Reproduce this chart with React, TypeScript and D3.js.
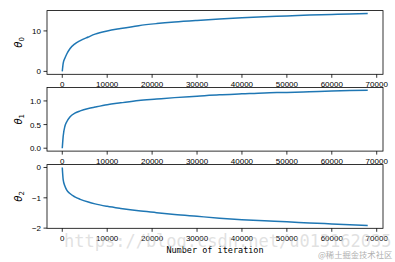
import React from "react";
import * as d3 from "d3";

const iterations = [0, 200, 600, 1000, 1700, 2800, 4000, 5800, 7300, 10000, 13000, 17000, 21000, 25000, 30000, 35000, 40000, 45000, 50000, 55000, 60000, 64000, 68000];
const theta0 = [0, 2.0, 3.3, 4.3, 5.6, 6.8, 7.6, 8.5, 9.2, 10.0, 10.6, 11.3, 11.8, 12.2, 12.6, 12.95, 13.25, 13.5, 13.7, 13.9, 14.05, 14.2, 14.3];
const theta1 = [0, 0.25, 0.47, 0.56, 0.66, 0.74, 0.79, 0.84, 0.87, 0.92, 0.96, 1.01, 1.04, 1.07, 1.10, 1.13, 1.15, 1.17, 1.18, 1.195, 1.21, 1.22, 1.225];
const theta2 = [0, -0.4, -0.62, -0.75, -0.86, -0.97, -1.05, -1.14, -1.2, -1.28, -1.35, -1.43, -1.49, -1.55, -1.61, -1.67, -1.72, -1.76, -1.79, -1.83, -1.86, -1.885, -1.91];

const xTicks = [0, 10000, 20000, 30000, 40000, 50000, 60000, 70000];
const yTicks0 = [0, 10];
const yTicks1 = [0, 0.5, 1.0];
const yTicks2 = [-2, -1, 0];
const subs = ["0", "1", "2"];
const xLabel = "Number of iteration";
const watermark = "https://blog.csdn.net/u013162035";
const watermark2 = "@稀土掘金技术社区";

const W = 395, H = 262;
const left = 47, right = 383;
const tops = [10.6, 87.4, 164.6];
const ph = 63.7;
const color = "#1f77b4";
const tickFont = "'Liberation Sans', Arial, sans-serif";

function pad(ext: [number, number]): [number, number] {
  const r = ext[1] - ext[0];
  return [ext[0] - 0.05 * r, ext[1] + 0.05 * r];
}

const series = [theta0, theta1, theta2];
const yTicksAll = [yTicks0, yTicks1, yTicks2];
const yFmt = [(v: number) => String(v), (v: number) => v.toFixed(1), (v: number) => (v < 0 ? "\u2212" + Math.abs(v) : String(v))];

export default function App() {
  const x = d3.scaleLinear().domain(pad(d3.extent(iterations) as [number, number])).range([left, right]);
  return (
    <svg width={W} height={H} style={{ position: "absolute", left: 0, top: 0, background: "#fff" }}>
      <rect width={W} height={H} fill="#fff" />
      {series.map((vals, i) => {
        const top = tops[i];
        const bottom = top + ph;
        const y = d3.scaleLinear().domain(pad(d3.extent(vals) as [number, number])).range([bottom, top]);
        const line = d3.line<number>().x((_, j) => x(iterations[j])).y((v) => y(v)).curve(d3.curveMonotoneX);
        return (
          <g key={i}>
            <defs>
              <clipPath id={"clip" + i}>
                <rect x={left} y={top} width={right - left} height={ph} />
              </clipPath>
            </defs>
            <path d={line(vals) || ""} fill="none" stroke={color} strokeWidth={1.5} clipPath={`url(#clip${i})`} />
            <rect x={left} y={top} width={right - left} height={ph} fill="none" stroke="#000" strokeWidth={0.8} />
            {xTicks.map((t) => (
              <g key={t}>
                <line x1={x(t)} x2={x(t)} y1={bottom} y2={bottom + 3.5} stroke="#000" strokeWidth={0.8} />
                <text x={x(t)} y={bottom + 13} textAnchor="middle" fontFamily={tickFont} fontSize={8} fill="#000">
                  {t}
                </text>
              </g>
            ))}
            {yTicksAll[i].map((t) => (
              <g key={t}>
                <line x1={left - 3.5} x2={left} y1={y(t)} y2={y(t)} stroke="#000" strokeWidth={0.8} />
                <text x={left - 6} y={y(t) + 3} textAnchor="end" fontFamily={tickFont} fontSize={8} fill="#000">
                  {yFmt[i](t)}
                </text>
              </g>
            ))}
            <text
              transform={`translate(22, ${top + ph / 2}) rotate(-90)`}
              textAnchor="middle"
              fontFamily="'DejaVu Sans', sans-serif"
              fontSize={10}
              fill="#000"
            >
              <tspan fontStyle="italic">θ</tspan>
              <tspan fontSize={7} dy={2}>{subs[i]}</tspan>
            </text>
          </g>
        );
      })}
      <text x={(left + right) / 2} y={253} textAnchor="middle" fontFamily="'DejaVu Sans Mono', monospace" fontSize={8.5} fill="#000">
        {xLabel}
      </text>
      <text x={64} y={247} fontFamily="'DejaVu Sans Mono', monospace" fontSize={17} fill="#c8c8c8" fillOpacity={0.55}>
        {watermark}
      </text>
      <text x={318} y={258} fontFamily="'Noto Sans CJK SC', sans-serif" fontSize={8.3} fill="#b0b0b0">
        {watermark2}
      </text>
    </svg>
  );
}
